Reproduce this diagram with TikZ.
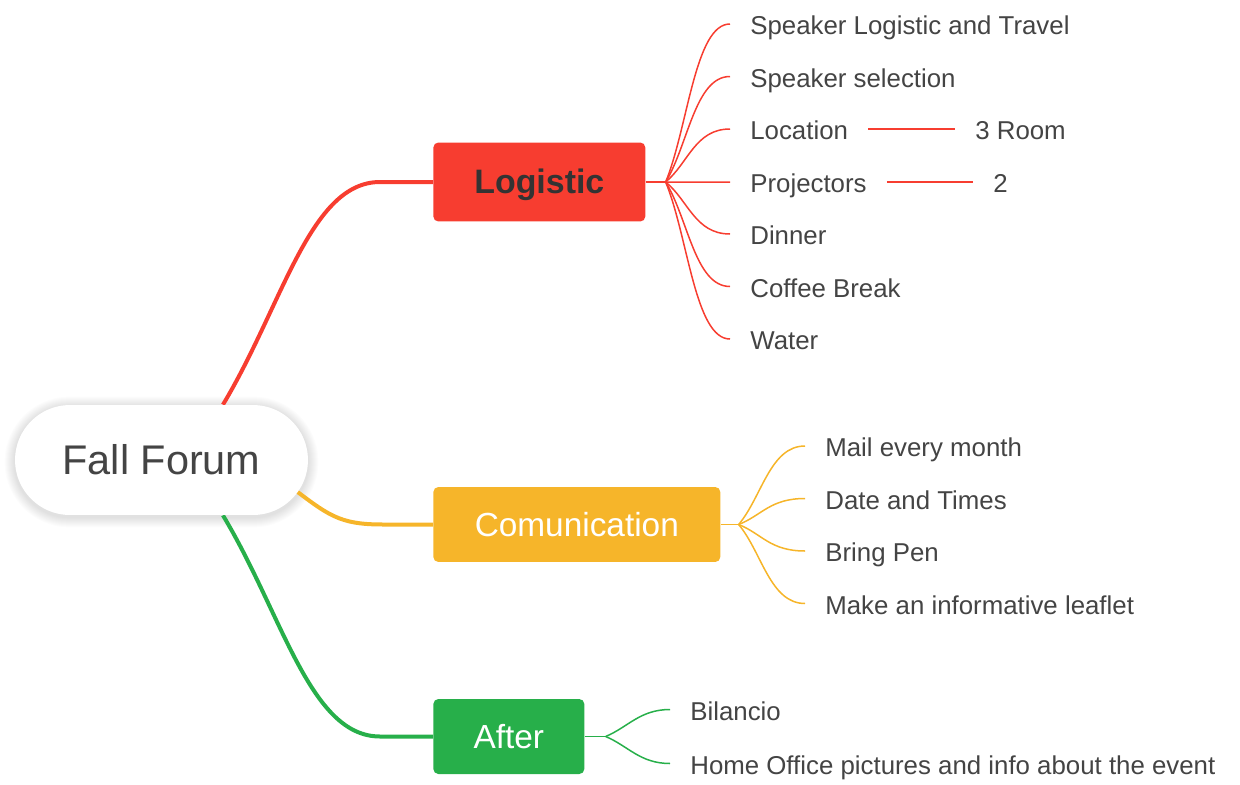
\documentclass[tikz,border=0pt]{standalone}
\usepackage{fontspec}
\setsansfont{Liberation Sans}
\usetikzlibrary{positioning, calc, backgrounds}

\definecolor{logred}{HTML}{F73D30}
\definecolor{comorange}{HTML}{F6B52A}
\definecolor{aftgreen}{HTML}{27AF4A}
\definecolor{txtgray}{HTML}{444444}

\begin{document}
\begin{tikzpicture}[
    x=0.02cm, y=-0.02cm,
    font=\sffamily,
    topic/.style={rectangle, rounded corners=0.1cm, anchor=west, inner sep=0pt,
        text height=18pt, text depth=4.5pt, font=\sffamily\fontsize{19}{22}\selectfont},
    leaf/.style={anchor=west, inner xsep=0.4cm, inner ysep=0pt, text=txtgray,
        text height=16.2pt, text depth=3.7pt, font=\sffamily\fontsize{14.7}{17}\selectfont},
    trunk/.style={line width=0.08cm},
    twig/.style={line width=0.03cm}
]
\useasboundingbox (0,0) rectangle (1240,784);

% Central topic
\node[rectangle, rounded corners=1.1cm, fill=white, minimum width=5.86cm, minimum height=2.2cm,
    text=txtgray, font=\sffamily\fontsize{23.6}{28}\selectfont] (forum) at (161.5,460) {Fall Forum};

% Main topics
\node[topic, fill=logred, text=black!80, font=\sffamily\bfseries\fontsize{19.3}{22}\selectfont,
    minimum width=4.24cm, minimum height=1.58cm] (logistic) at (433,182) {Logistic};
\node[topic, fill=comorange, text=white, minimum width=5.74cm, minimum height=1.5cm] (comm) at (433,524.5) {Comunication};
\node[topic, fill=aftgreen, text=white, minimum width=3.02cm, minimum height=1.5cm] (after) at (433,736.5) {After};

% Logistic leaves
\node[leaf] (l1) at (730,24) {Speaker Logistic and Travel};
\node[leaf] (l2) at (730,76.5) {Speaker selection};
\node[leaf] (l3) at (730,129) {Location};
\node[leaf] (l4) at (730,182) {Projectors};
\node[leaf] (l5) at (730,234) {Dinner};
\node[leaf] (l6) at (730,286.5) {Coffee Break};
\node[leaf] (l7) at (730,339) {Water};
\node[leaf] (room) at (955,129) {3 Room};
\node[leaf] (two) at (973,182) {2};

% Comunication leaves
\node[leaf] (c1) at (805,446) {Mail every month};
\node[leaf] (c2) at (805,498.5) {Date and Times};
\node[leaf] (c3) at (805,551) {Bring Pen};
\node[leaf] (c4) at (805,603.5) {Make an informative leaflet};

% After leaves
\node[leaf] (a1) at (670,709.5) {Bilancio};
\node[leaf] (a2) at (670,763.5) {Home Office pictures and info about the event};

% Junctions
\coordinate (lj) at ($(logistic.east)+(20,0)$);
\coordinate (cj) at ($(comm.east)+(18,0)$);
\coordinate (aj) at ($(after.east)+(21,0)$);

\begin{scope}[on background layer]
% soft shadow round the central topic
\foreach \i in {1,...,10}
    \fill[black, opacity=0.012, rounded corners={1.1cm+0.02cm*\i}]
        ($(forum.north west)+(-\i,-\i+2)$) rectangle ($(forum.south east)+(\i,\i+2)$);

% Trunks
\draw[trunk, logred] (forum.42) .. controls +(60,-100) and +(-70,0) .. ($(logistic.west)+(-53,0)$) -- (logistic.west);
\draw[trunk, comorange] ($(forum.east)+(-20,25)$) .. controls +(40,30) and +(-45,0) .. ($(comm.west)+(-50,0)$) -- (comm.west);
\draw[trunk, aftgreen] (forum.-42) .. controls +(60,100) and +(-70,0) .. ($(after.west)+(-53,0)$) -- (after.west);

% Twigs
\draw[twig, logred] (logistic.east) -- (lj);
\foreach \n in {1,...,7}
    \draw[twig, logred] (lj) .. controls ($(lj)!0.35!(l\n.west)$) and ($(l\n.west)+(-35,0)$) .. (l\n.west);
\draw[twig, logred] (l3.east) -- (room.west);
\draw[twig, logred] (l4.east) -- (two.west);

\draw[twig, comorange] (comm.east) -- (cj);
\foreach \n in {1,...,4}
    \draw[twig, comorange] (cj) .. controls ($(cj)!0.35!(c\n.west)$) and ($(c\n.west)+(-35,0)$) .. (c\n.west);

\draw[twig, aftgreen] (after.east) -- (aj);
\foreach \n in {1,2}
    \draw[twig, aftgreen] (aj) .. controls ($(aj)!0.35!(a\n.west)$) and ($(a\n.west)+(-30,0)$) .. (a\n.west);
\end{scope}

\end{tikzpicture}
\end{document}
